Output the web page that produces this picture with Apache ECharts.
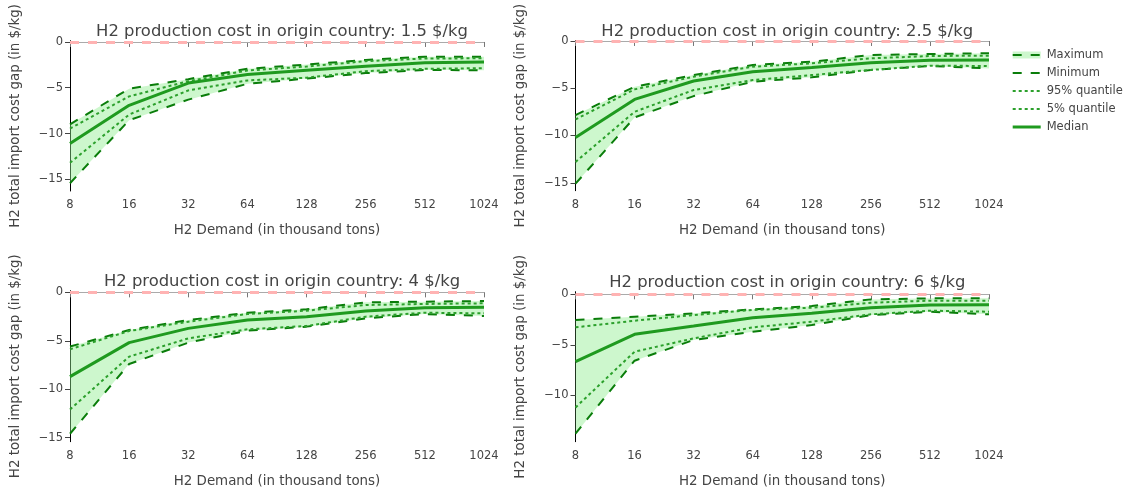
<!DOCTYPE html>
<html>
<head>
<meta charset="utf-8">
<script src="https://cdn.jsdelivr.net/npm/echarts@6/dist/echarts.min.js"></script>
<style>html,body{margin:0;padding:0;background:#fff}#c{width:1130px;height:495px}</style>
</head>
<body>
<div id="c"></div>
<script>
const demand = [8, 16, 32, 64, 128, 256, 512, 1024];
const yTicks = [-15, -10, -5, 0];
const productionCosts = ['1.5', '2.5', '4', '6'];

const max1 = [-9.0, -5.1, -4.06, -2.93, -2.46, -1.96, -1.6, -1.6];
const q95_1 = [-9.46, -5.94, -4.28, -3.12, -2.68, -2.1, -1.81, -1.78];
const med1 = [-11.1, -6.92, -4.49, -3.55, -3.1, -2.65, -2.28, -2.2];
const q5_1 = [-13.2, -7.93, -5.29, -4.2, -3.9, -3.19, -2.93, -2.86];
const min1 = [-15.43, -8.55, -6.3, -4.57, -4.0, -3.4, -3.04, -3.1];

const max2 = [-7.84, -4.84, -3.6, -2.54, -2.2, -1.48, -1.38, -1.3];
const q95_2 = [-8.3, -5.12, -3.78, -2.72, -2.37, -1.84, -1.59, -1.55];
const med2 = [-10.2, -6.18, -4.24, -3.25, -2.8, -2.3, -2.05, -2.0];
const q5_2 = [-12.8, -7.49, -5.19, -4.13, -3.6, -3.07, -2.61, -2.65];
const min2 = [-15.1, -8.09, -5.83, -4.31, -3.85, -3.07, -2.65, -2.9];

const max3 = [-5.6, -3.89, -2.86, -2.1, -1.75, -1.03, -0.96, -0.9];
const q95_3 = [-5.88, -3.99, -3.03, -2.24, -1.89, -1.31, -1.2, -1.13];
const med3 = [-8.7, -5.19, -3.72, -2.86, -2.51, -1.93, -1.58, -1.55];
const q5_3 = [-12.1, -6.64, -4.75, -3.82, -3.47, -2.51, -2.1, -2.17];
const min3 = [-14.6, -7.4, -5.19, -3.96, -3.54, -2.68, -2.24, -2.44];

const max4 = [-2.54, -2.21, -1.88, -1.49, -1.16, -0.5, -0.4, -0.4];
const q95_4 = [-3.27, -2.61, -2.05, -1.55, -1.32, -0.83, -0.63, -0.63];
const med4 = [-6.67, -3.96, -3.14, -2.31, -1.88, -1.32, -1.06, -1.02];
const q5_4 = [-11.2, -5.68, -4.36, -3.27, -2.71, -1.98, -1.62, -1.72];
const min4 = [-13.8, -6.57, -4.52, -3.7, -3.04, -2.05, -1.72, -1.98];

const panels = [
  {max: max1, q95: q95_1, med: med1, q5: q5_1, min: min1},
  {max: max2, q95: q95_2, med: med2, q5: q5_2, min: min2},
  {max: max3, q95: q95_3, med: med3, q5: q5_3, min: min3},
  {max: max4, q95: q95_4, med: med4, q5: q5_4, min: min4}
];

// layout
const FONT = 'DejaVu Sans';
const TXT = '#444';
const grids = [
  {left: 70, top: 40.7, width: 414, height: 150.3},
  {left: 575.5, top: 40.5, width: 413.5, height: 150.2},
  {left: 70, top: 290.7, width: 414, height: 151},
  {left: 575.5, top: 291.7, width: 413.5, height: 150}
];
const yRanges = [[-16.28, 0.14], [-15.84, 0.05], [-15.42, 0.17], [-14.59, 0.26]];

const C_DASH = '#0a7d0a', C_DOT = '#2ca02c', C_MED = '#1f9a1f', C_FILL = 'rgba(144,238,144,0.45)';
const pairs = arr => demand.map((d, i) => [d, arr[i]]);
const fmtY = v => v === 0 ? '0' : (v < 0 ? '\u2212' + Math.abs(v) : String(v));

const xAxes = [], yAxes = [], series = [], titles = [];
grids.forEach((g, i) => {
  xAxes.push({
    gridIndex: i, type: 'log', logBase: 2, min: 8, max: 1024,
    splitLine: {show: false},
    axisLine: {show: true, lineStyle: {color: '#777', width: 1}},
    axisTick: {show: true, length: 5, lineStyle: {color: '#777'}},
    axisLabel: {color: TXT, fontFamily: FONT, fontSize: 11.5, margin: 8,
      formatter: v => String(Math.round(v)), showMinLabel: true, showMaxLabel: true},
    minorTick: {show: false},
    name: 'H2 Demand (in thousand tons)', nameLocation: 'middle', nameGap: 33,
    nameTextStyle: {color: TXT, fontFamily: FONT, fontSize: 13.4}
  });
  yAxes.push({
    gridIndex: i, type: 'value', min: yRanges[i][0], max: yRanges[i][1],
    splitLine: {show: false},
    axisLine: {show: true, lineStyle: {color: '#000', width: 1}},
    axisTick: {show: true, length: 5, customValues: yTicks, lineStyle: {color: '#444'}},
    axisLabel: {color: TXT, fontFamily: FONT, fontSize: 11.5, margin: 7, customValues: yTicks, formatter: fmtY},
    name: 'H2 total import cost gap (in $/kg)', nameLocation: 'middle', nameGap: 48,
    nameTextStyle: {color: TXT, fontFamily: FONT, fontSize: 13.4}
  });
  titles.push({
    text: 'H2 production cost in origin country: ' + productionCosts[i] + ' $/kg',
    left: g.left + g.width / 2, top: g.top - 21.5, textAlign: 'center',
    textStyle: {color: TXT, fontFamily: FONT, fontSize: 16.4, fontWeight: 'normal'}
  });
  const p = panels[i];
  const common = {type: 'line', xAxisIndex: i, yAxisIndex: i, symbol: 'none', silent: true, animation: false};
  // shaded band between Minimum and Maximum
  series.push({
    type: 'custom', name: 'band' + i, xAxisIndex: i, yAxisIndex: i, silent: true, z: 1, clip: true,
    data: demand.map((d, k) => [d, p.min[k], p.max[k]]),
    encode: {x: 0, y: [1, 2]},
    renderItem: (params, api) => {
      if (params.dataIndex !== 0) return null;
      const top = demand.map((d, k) => api.coord([d, p.max[k]]));
      const bot = demand.map((d, k) => api.coord([d, p.min[k]])).reverse();
      return {type: 'polygon', shape: {points: top.concat(bot)}, style: {fill: C_FILL, stroke: null}};
    }
  });
  series.push(Object.assign({}, common, {
    name: 'Maximum', data: pairs(p.max), lineStyle: {color: C_DASH, width: 2, type: [9, 9]}, z: 3
  }));
  series.push(Object.assign({}, common, {
    name: 'Minimum', data: pairs(p.min), lineStyle: {color: C_DASH, width: 2, type: [9, 9]}, z: 3
  }));
  series.push(Object.assign({}, common, {
    name: '95% quantile', data: pairs(p.q95), lineStyle: {color: C_DOT, width: 2, type: [3, 3]}, z: 3
  }));
  series.push(Object.assign({}, common, {
    name: '5% quantile', data: pairs(p.q5), lineStyle: {color: C_DOT, width: 2, type: [3, 3]}, z: 3
  }));
  series.push(Object.assign({}, common, {
    name: 'Median', data: pairs(p.med), lineStyle: {color: C_MED, width: 3}, z: 4,
    markLine: {
      silent: true, symbol: ['none', 'none'], label: {show: false}, animation: false,
      data: [
        {yAxis: 0, lineStyle: {color: '#aaa', width: 1, type: 'solid'}},
        {yAxis: 0, lineStyle: {color: '#ffb3b3', width: 3, type: [9, 9]}}
      ]
    }
  }));
});

// legend (drawn as graphic)
const legendItems = [
  {name: 'Maximum', color: C_DASH, dash: [9, 9], width: 2, fill: true},
  {name: 'Minimum', color: C_DASH, dash: [9, 9], width: 2},
  {name: '95% quantile', color: C_DOT, dash: [3, 3], width: 2},
  {name: '5% quantile', color: C_DOT, dash: [3, 3], width: 2},
  {name: 'Median', color: C_MED, dash: 'solid', width: 3}
];
const graphic = [];
legendItems.forEach((it, k) => {
  const y = 55 + k * 18;
  if (it.fill) {
    graphic.push({type: 'rect', shape: {x: 1012.7, y: y - 3.5, width: 28, height: 7}, style: {fill: C_FILL}, silent: true});
  }
  graphic.push({type: 'line', shape: {x1: 1012.7, y1: y, x2: 1040.7, y2: y},
    style: {stroke: it.color, lineWidth: it.width, lineDash: it.dash === 'solid' ? null : it.dash}, silent: true});
  graphic.push({type: 'text', x: 1046.7, y: y, style: {text: it.name, fill: TXT, font: '11.5px "DejaVu Sans"', textVerticalAlign: 'middle'}, silent: true});
});

const chart = echarts.init(document.getElementById('c'), null, {renderer: 'canvas'});
chart.setOption({
  animation: false,
  backgroundColor: '#fff',
  title: titles,
  grid: grids,
  xAxis: xAxes,
  yAxis: yAxes,
  series: series,
  graphic: graphic
});
</script>
</body>
</html>
